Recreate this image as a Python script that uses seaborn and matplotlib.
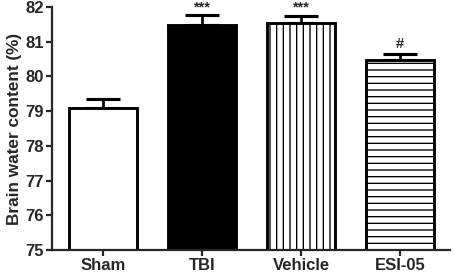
#%% imports
import numpy as np
import pandas as pd
import matplotlib
matplotlib.use('Agg')
import matplotlib.pyplot as plt
import seaborn as sns

#%% data
groups = ['Sham', 'TBI', 'Vehicle', 'ESI-05']
water_content = [79.1, 81.47, 81.55, 80.48]
sem = [0.25, 0.3, 0.2, 0.16]
marks = ['', '***', '***', '#']
hatches = ['', '', '--', '--']
face_colors = ['white', 'black', 'white', 'white']
y_ticks = [75, 76, 77, 78, 79, 80, 81, 82]

#%% style
sns.set_style('ticks')
plt.rcParams['font.family'] = ['Liberation Sans', 'DejaVu Sans']
plt.rcParams['font.weight'] = 'bold'
plt.rcParams['hatch.linewidth'] = 1.2

DPI = 80
fig = plt.figure(figsize=(454 / DPI, 276 / DPI), dpi=DPI)
ax = fig.add_axes([0.1145, 0.094, 0.877, 0.881])

df = pd.DataFrame({'group': groups, 'value': water_content})
sns.barplot(data=df, x='group', y='value', order=groups, width=0.68,
            errorbar=None, ax=ax, color='white', edgecolor='black', linewidth=2.6)

# no lower error bars, only sem above the bar
ax.errorbar(range(len(groups)), water_content,
            yerr=[np.zeros(len(sem)), sem], fmt='none', ecolor='black',
            elinewidth=2.4, capsize=15.5, capthick=2.8, zorder=1)

for patch, fc, h in zip(ax.patches, face_colors, hatches):
    patch.set_facecolor(fc)
    patch.set_hatch(h)
    patch.set_zorder(2)
# vehicle uses vertical lines
ax.patches[2].set_hatch('||')

for i, (v, s, m) in enumerate(zip(water_content, sem, marks)):
    if m == '#':
        ax.text(i, v + s + 0.1, m, ha='center', va='bottom', fontsize=13)
    elif m:
        ax.text(i, v + s + 0.22, m, ha='center', va='center', fontsize=13)

ax.set_ylim(75, 82)
ax.set_yticks(y_ticks)
ax.set_xlim(-0.515, 3.505)
ax.set_xlabel('')
ax.set_ylabel('Brain water content (%)', fontsize=15.5, fontweight='bold', labelpad=3)
ax.tick_params(axis='y', labelsize=15, width=2, length=5, pad=2)
ax.tick_params(axis='x', labelsize=15, width=2, length=5, pad=2)
for side in ['left', 'bottom']:
    ax.spines[side].set_linewidth(2)
sns.despine(ax=ax)

fig.savefig('out.png', dpi=DPI)
